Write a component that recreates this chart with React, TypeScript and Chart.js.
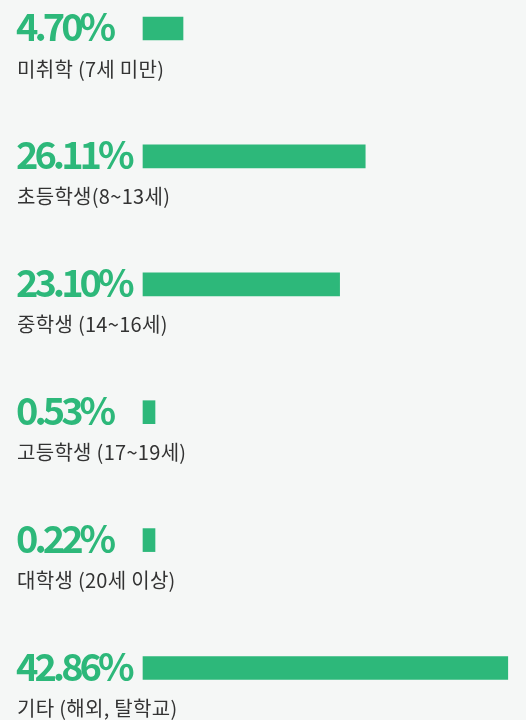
import React, { useEffect, useRef } from "react";
import { Chart, registerables } from "chart.js";

Chart.register(...registerables);

const categories = [
  "미취학 (7세 미만)",
  "초등학생(8~13세)",
  "중학생 (14~16세)",
  "고등학생 (17~19세)",
  "대학생 (20세 이상)",
  "기타 (해외, 탈학교)",
];
const values = [4.7, 26.11, 23.1, 0.53, 0.22, 42.86];
const valueLabels = ["4.70%", "26.11%", "23.10%", "0.53%", "0.22%", "42.86%"];

const GREEN = "#2db87a";
const BG = "#f5f7f6";
const TEXT = "#333333";

const labelPlugin = {
  id: "rowLabels",
  afterDatasetsDraw(chart: any) {
    const ctx = chart.ctx;
    const meta = chart.getDatasetMeta(0);
    ctx.save();
    meta.data.forEach((bar: any, i: number) => {
      const y = bar.y;
      ctx.textAlign = "left";
      ctx.textBaseline = "alphabetic";
      ctx.fillStyle = GREEN;
      ctx.font = 'bold 38px "Noto Sans CJK KR", "Noto Sans", sans-serif';
      (ctx as any).letterSpacing = "-4px";
      ctx.fillText(valueLabels[i], 16, y + 12.5);
      ctx.fillStyle = TEXT;
      ctx.font = '20px "Noto Sans CJK KR", "Noto Sans", sans-serif';
      (ctx as any).letterSpacing = "0.3px";
      ctx.fillText(categories[i], 17, y + 48);
    });
    ctx.restore();
  },
};

export default function App() {
  const ref = useRef<HTMLCanvasElement | null>(null);
  useEffect(() => {
    document.body.style.margin = "0";
    document.body.style.background = BG;
    const chart = new Chart(ref.current as HTMLCanvasElement, {
      type: "bar",
      data: {
        labels: categories,
        datasets: [
          {
            data: values,
            backgroundColor: GREEN,
            borderWidth: 0,
            barThickness: 23,
            minBarLength: 12,
            clip: false,
          } as any,
        ],
      },
      options: {
        indexAxis: "y",
        animation: false,
        responsive: false,
        layout: { padding: { left: 143, right: 0, top: 28.5, bottom: 52 } },
        plugins: { legend: { display: false }, tooltip: { enabled: false } },
        scales: {
          x: { type: "linear", min: 0, max: 45, display: false },
          y: { type: "category", offset: false, display: false },
        },
      },
      plugins: [labelPlugin],
    });
    return () => chart.destroy();
  }, []);
  return (
    <div style={{ width: 526, height: 720, background: BG }}>
      <canvas ref={ref} width={526} height={720} style={{ display: "block" }} />
    </div>
  );
}
